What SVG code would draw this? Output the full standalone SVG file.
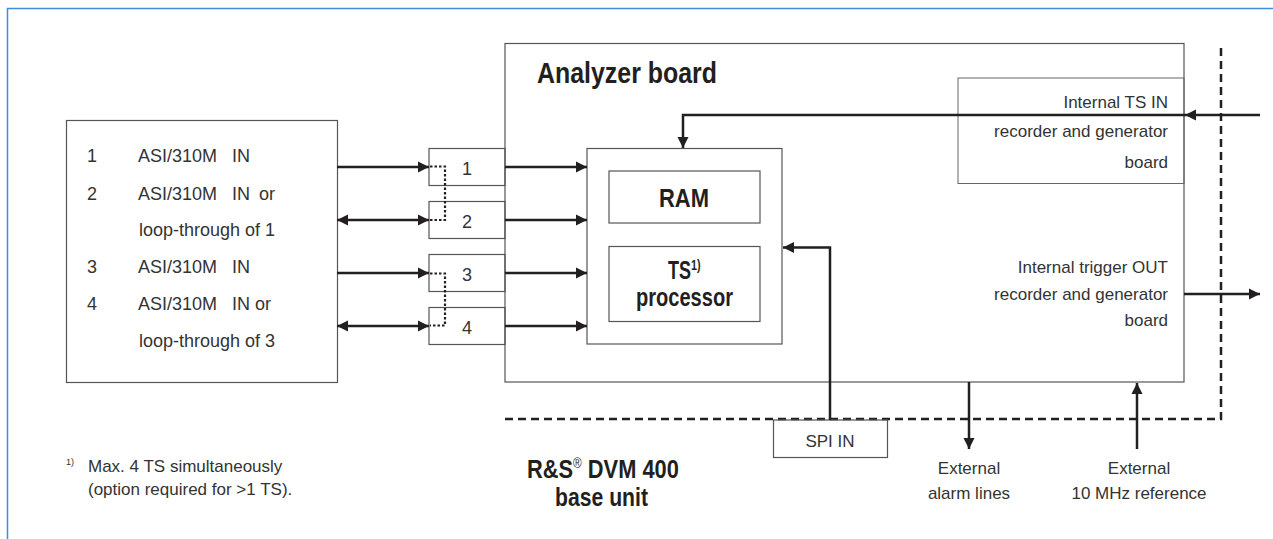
<svg xmlns="http://www.w3.org/2000/svg" width="1273" height="539" viewBox="0 0 1273 539">
<style>
.t{font-family:"Liberation Sans",Arial,sans-serif;fill:#333;font-size:17px}
.l{font-size:18px}
.b{font-family:"Liberation Sans",Arial,sans-serif;fill:#231f20;font-weight:bold}
.box{fill:none;stroke:#555;stroke-width:1.2}
.ar{fill:none;stroke:#231f20;stroke-width:2.5}
.dot{fill:none;stroke:#231f20;stroke-width:2.2;stroke-dasharray:2.5 2}
.dash{fill:none;stroke:#231f20;stroke-width:2.5;stroke-dasharray:8 5}
</style>
<defs>
<marker id="ah" viewBox="0 0 10 10" refX="10" refY="5" markerWidth="11" markerHeight="12" orient="auto-start-reverse" markerUnits="userSpaceOnUse"><path d="M0,0 L10,5 L0,10 z" fill="#231f20"/></marker>
</defs>
<rect x="7.5" y="8.5" width="1300" height="600" fill="#fff" stroke="#3d8fd6" stroke-width="1.5"/>

<g id="base-unit-boundary">
<path class="dash" d="M505,419 H1221 V43"/>
</g>

<g id="inputs">
<rect class="box" x="66.5" y="120.5" width="271" height="262"/>
<text class="t l" x="87" y="162">1</text><text class="t l" x="138" y="162">ASI/310M</text><text class="t l" x="232" y="162">IN</text>
<text class="t l" x="87" y="200">2</text><text class="t l" x="138" y="200">ASI/310M</text><text class="t l" x="232" y="200">IN</text><text class="t l" x="259" y="200">or</text>
<text class="t l" x="139" y="236">loop-through of 1</text>
<text class="t l" x="87" y="273">3</text><text class="t l" x="138" y="273">ASI/310M</text><text class="t l" x="232" y="273">IN</text>
<text class="t l" x="87" y="310">4</text><text class="t l" x="138" y="310">ASI/310M</text><text class="t l" x="232" y="310">IN</text><text class="t l" x="255" y="310">or</text>
<text class="t l" x="139" y="347">loop-through of 3</text>
</g>

<g id="analyzer-board">
<rect class="box" x="505" y="43.5" width="679" height="338.5" stroke-width="1.5"/>
<text class="b" x="537" y="83" font-size="30" textLength="180" lengthAdjust="spacingAndGlyphs">Analyzer board</text>
</g>

<g id="port1"><rect class="box" x="429" y="148.5" width="76" height="37"/><text class="t l" x="467" y="175" text-anchor="middle">1</text></g>
<g id="port2"><rect class="box" x="429" y="201.5" width="76" height="37"/><text class="t l" x="467" y="228" text-anchor="middle">2</text></g>
<g id="port3"><rect class="box" x="429" y="254.5" width="76" height="37"/><text class="t l" x="467" y="281" text-anchor="middle">3</text></g>
<g id="port4"><rect class="box" x="429" y="307.5" width="76" height="37"/><text class="t l" x="467" y="334" text-anchor="middle">4</text></g>

<g id="processor-block">
<rect class="box" x="587" y="148.5" width="195" height="195.5" stroke-width="1.5"/>
</g>
<g id="ram">
<rect class="box" x="609" y="171" width="151" height="52"/>
<text class="b" x="659" y="207" font-size="25" textLength="50" lengthAdjust="spacingAndGlyphs">RAM</text>
</g>
<g id="ts-processor">
<rect class="box" x="609" y="246.5" width="151" height="75"/>
<text class="b" font-size="25" transform="translate(668,279) scale(0.72,1)">TS<tspan font-size="15" dy="-9">1)</tspan></text>
<text class="b" x="636" y="306" font-size="25" textLength="97" lengthAdjust="spacingAndGlyphs">processor</text>
</g>

<g id="internal-ts-in">
<rect x="958" y="78" width="226" height="105.5" fill="none" stroke="#666" stroke-width="1"/>
<text class="t" x="1168" y="108" text-anchor="end">Internal TS IN</text>
<text class="t" x="1168" y="137" text-anchor="end">recorder and generator</text>
<text class="t" x="1168" y="168" text-anchor="end">board</text>
</g>

<g id="internal-trigger-out">
<text class="t" x="1168" y="273" text-anchor="end">Internal trigger OUT</text>
<text class="t" x="1168" y="300" text-anchor="end">recorder and generator</text>
<text class="t" x="1168" y="326" text-anchor="end">board</text>
</g>

<g id="spi-in">
<rect class="box" x="773.5" y="420" width="114" height="37.5"/>
<text class="t" x="830" y="447" text-anchor="middle">SPI IN</text>
</g>

<g id="external-alarm">
<text class="t" x="969" y="474" text-anchor="middle">External</text>
<text class="t" x="969" y="499" text-anchor="middle">alarm lines</text>
</g>
<g id="external-10mhz">
<text class="t" x="1139" y="474" text-anchor="middle">External</text>
<text class="t" x="1139" y="499" text-anchor="middle">10 MHz reference</text>
</g>

<g id="unit-label">
<text class="b" font-size="26" transform="translate(527,478) scale(0.84,1)">R&amp;S<tspan font-size="14" font-weight="normal" dy="-10">®</tspan><tspan dy="10"> DVM 400</tspan></text>
<text class="b" x="555" y="506" font-size="26" textLength="93" lengthAdjust="spacingAndGlyphs">base unit</text>
</g>

<g id="footnote">
<text class="t" font-size="14.6" transform="translate(66,472)"><tspan font-size="9" dy="-7">1)</tspan><tspan x="22" dy="7">Max. 4 TS simultaneously</tspan></text>
<text class="t" x="88" y="495" font-size="14.6">(option required for &gt;1 TS).</text>
</g>

<g id="connectors">
<path class="ar" d="M337,167 H429" marker-end="url(#ah)"/>
<path class="ar" d="M337,220 H429" marker-start="url(#ah)" marker-end="url(#ah)"/>
<path class="ar" d="M337,273 H429" marker-end="url(#ah)"/>
<path class="ar" d="M337,326 H429" marker-start="url(#ah)" marker-end="url(#ah)"/>
<path class="dot" d="M430,166.5 H445 V220 H430"/>
<path class="dot" d="M430,273.5 H445 V325.5 H430"/>
<path class="ar" d="M505,167 H587" marker-end="url(#ah)"/>
<path class="ar" d="M505,220 H587" marker-end="url(#ah)"/>
<path class="ar" d="M505,273 H587" marker-end="url(#ah)"/>
<path class="ar" d="M505,326 H587" marker-end="url(#ah)"/>
<path class="ar" d="M1260,115 H1185" marker-end="url(#ah)"/>
<path class="ar" d="M1185,115 H683 V148" marker-end="url(#ah)"/>
<path class="ar" d="M1184,294 H1260" marker-end="url(#ah)"/>
<path class="ar" d="M830,420 V247.5 H783" marker-end="url(#ah)"/>
<path class="ar" d="M969,382 V449" marker-end="url(#ah)"/>
<path class="ar" d="M1137,449 V383" marker-end="url(#ah)"/>
</g>
</svg>
